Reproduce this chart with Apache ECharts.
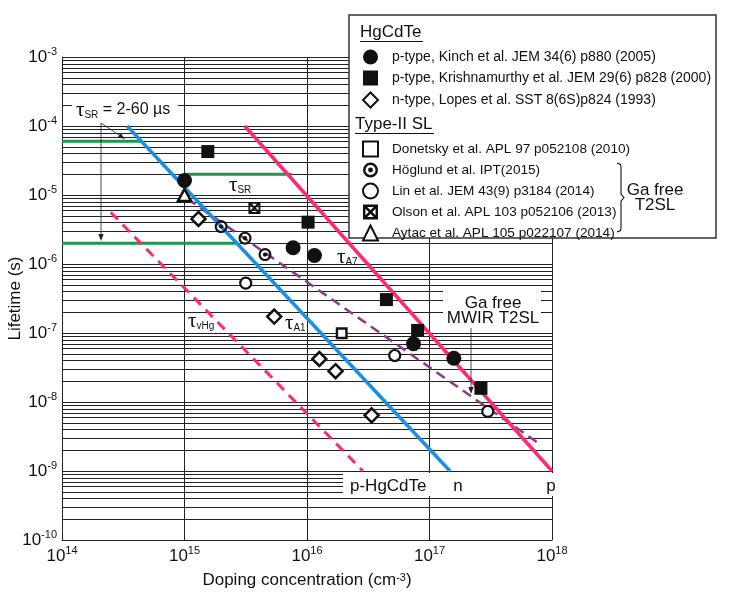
<!DOCTYPE html>
<html><head><meta charset="utf-8">
<script src="https://cdn.jsdelivr.net/npm/echarts@6/dist/echarts.min.js"></script>
<style>html,body{margin:0;padding:0;background:#fff}#chart{width:730px;height:600px}</style>
</head><body><div id="chart"></div>
<script>
const FONT = "'Liberation Sans', Arial, Helvetica, sans-serif";
const SERIF = "'Liberation Serif', 'Times New Roman', serif";

// ---- axes ----
const xMin = 1e14, xMax = 1e18;
const yMin = 1e-10, yMax = 1e-3;
const yDecades = [-10, -9, -8, -7, -6, -5, -4];
const minorMultipliers = [2, 3, 4, 5, 6, 7, 8, 9];

// ---- HgCdTe data ----
const kinchX = [1.0e15, 7.7e15, 1.15e16, 7.4e16, 1.58e17];
const kinchY = [1.62e-5, 1.72e-6, 1.33e-6, 7.0e-8, 4.3e-8];
const krishX = [1.55e15, 1.02e16, 4.45e16, 8.0e16, 2.63e17];
const krishY = [4.26e-5, 4.04e-6, 3.05e-7, 1.09e-7, 1.58e-8];
const lopesX = [1.3e15, 5.4e15, 1.26e16, 1.71e16, 3.37e16];
const lopesY = [4.5e-6, 1.73e-7, 4.2e-8, 2.8e-8, 6.4e-9];

// ---- Type-II SL data ----
const donetskyX = [1.92e16];
const donetskyY = [9.9e-8];
const hoglundX = [1.99e15, 3.12e15, 4.54e15];
const hoglundY = [3.49e-6, 2.37e-6, 1.37e-6];
const linX = [3.16e15, 5.2e16, 2.99e17];
const linY = [5.27e-7, 4.72e-8, 7.3e-9];
const olsonX = [3.72e15];
const olsonY = [6.5e-6];
const aytacX = [1.0e15];
const aytacY = [1.0e-5];

// ---- model lines ----
const tauA1X = [3.4e14, 1.47e17];
const tauA1Y = [1e-4, 1e-9];
const tauA7X = [3.1e15, 1e18];
const tauA7Y = [1e-4, 1e-9];
const tauVHgX = [2.5e14, 2.86e16];
const tauVHgY = [5.6e-6, 1e-9];
const gaFreeX = [1.05e15, 8.2e17];
const gaFreeY = [8.9e-6, 2.36e-9];
const tauSR1X = [1e14, 4.5e14];
const tauSR1Y = [6e-5, 6e-5];
const tauSR2X = [1e15, 7.5e15];
const tauSR2Y = [2e-5, 2e-5];
const tauSR3X = [1e14, 2.6e15];
const tauSR3Y = [2e-6, 2e-6];

// ---- names ----
const N_KINCH = 'p-type, Kinch et al. JEM 34(6) p880 (2005)';
const N_KRISH = 'p-type, Krishnamurthy et al. JEM 29(6) p828 (2000)';
const N_LOPES = 'n-type, Lopes et al. SST 8(6S)p824 (1993)';
const N_DONETSKY = 'Donetsky et al. APL 97 p052108 (2010)';
const N_HOGLUND = 'Höglund et al. IPT(2015)';
const N_LIN = 'Lin et al. JEM 43(9) p3184 (2014)';
const N_OLSON = 'Olson et al. APL 103 p052106 (2013)';
const N_AYTAC = 'Aytac et al. APL 105 p022107 (2014)';

const PATH_DOT_CIRCLE = 'path://M10,0A10,10,0,1,1,10,20A10,10,0,1,1,10,0ZM10,3.3A6.7,6.7,0,1,0,10,16.7A6.7,6.7,0,1,0,10,3.3ZM10,6.7A3.3,3.3,0,1,1,10,13.3A3.3,3.3,0,1,1,10,6.7Z';
const PATH_X_SQUARE = 'path://M0,0L20,0L20,20L0,20ZM3.2,3.2L3.2,16.8L16.8,16.8L16.8,3.2ZM3.2,3.2L5.7,3.2L16.8,14.3L16.8,16.8L14.3,16.8L3.2,5.7ZM16.8,3.2L16.8,5.7L5.7,16.8L3.2,16.8L3.2,14.3L14.3,3.2Z';

const zip = (xs, ys) => xs.map((x, i) => [x, ys[i]]);

const minorY = [];
yDecades.forEach(d => minorMultipliers.forEach(m => minorY.push(m * Math.pow(10, d))));

const INK = '#111';
const BLUE = '#1b8fe2';
const PINK = '#ff2a76';
const GREEN = '#1a9a48';
const PURPLE = '#8b3b86';

function lineSeries(xs, ys, color, width, dash) {
  return {
    type: 'line', data: zip(xs, ys), symbol: 'none', z: 3, silent: true,
    lineStyle: { color: color, width: width, type: dash ? dash : 'solid', cap: 'butt' },
    animation: false
  };
}
function scatter(name, xs, ys, symbol, size, style) {
  return {
    type: 'scatter', name: name, data: zip(xs, ys), symbol: symbol, symbolSize: size,
    itemStyle: Object.assign({ opacity: 1 }, style), z: 4, animation: false
  };
}

const fmtPow = v => '{b|10}{s|' + Math.round(Math.log10(v)) + '}';
const powRich = {
  b: { fontSize: 17, lineHeight: 22, fontFamily: FONT, color: INK },
  s: { fontSize: 11, lineHeight: 11, verticalAlign: 'top', fontFamily: FONT, color: INK }
};

function arrow(x1, y1, x2, y2) {
  const dx = x2 - x1, dy = y2 - y1, L = Math.hypot(dx, dy), ux = dx / L, uy = dy / L;
  const hl = 7, hw = 2.6;
  const bx = x2 - ux * hl, by = y2 - uy * hl;
  return [
    { type: 'line', z: 6, silent: true, shape: { x1: x1, y1: y1, x2: bx, y2: by }, style: { stroke: '#222', lineWidth: 0.8 } },
    { type: 'polygon', z: 6, silent: true, shape: { points: [[x2, y2], [bx - uy * hw, by + ux * hw], [bx + uy * hw, by - ux * hw]] }, style: { fill: '#222' } }
  ];
}
function tauLabel(x, y, sub) {
  return {
    type: 'text', x: x, y: y, z: 6, silent: true,
    style: {
      text: '{t|τ}{s|' + sub + '}', align: 'left', verticalAlign: 'middle',
      rich: {
        t: { fontFamily: SERIF, fontSize: 21, lineHeight: 20, fill: INK },
        s: { fontFamily: FONT, fontSize: 10, lineHeight: 11, verticalAlign: 'bottom', fill: INK }
      }
    }
  };
}
function txt(x, y, text, size, align, extra) {
  return {
    type: 'text', x: x, y: y, z: 6, silent: true,
    style: Object.assign({ text: text, fontFamily: FONT, fontSize: size, fill: INK, align: align || 'left', verticalAlign: 'middle' }, extra || {})
  };
}
function whiteBox(x, y, w, h, z, stroke) {
  return {
    type: 'rect', z: z, silent: true, shape: { x: x, y: y, width: w, height: h },
    style: stroke ? { fill: '#fff', stroke: stroke, lineWidth: 1.5 } : { fill: '#fff' }
  };
}
function legendBlock(items, top, gap, fontSize) {
  return {
    data: items, orient: 'vertical', left: 362, top: top, padding: 0,
    itemWidth: 15, itemHeight: 15, itemGap: gap, selectedMode: false, z: 7,
    symbolKeepAspect: true,
    textStyle: { fontSize: fontSize, color: INK, fontFamily: FONT, padding: [0, 0, 0, 9] },
    itemStyle: { borderWidth: 2 }
  };
}

const chart = echarts.init(document.getElementById('chart'), null, { renderer: 'canvas' });

const option = {
  backgroundColor: '#fff',
  animation: false,
  textStyle: { fontFamily: FONT },
  grid: { left: 62, right: 178, top: 57, bottom: 60, containLabel: false, outerBoundsMode: 'none' },
  xAxis: {
    type: 'log', logBase: 10, min: xMin, max: xMax, splitNumber: 4,
    axisLine: { show: true, lineStyle: { color: '#222', width: 1 } },
    axisTick: { show: false },
    splitLine: { show: true, lineStyle: { color: '#222', width: 1 } },
    axisLabel: { formatter: fmtPow, rich: powRich, margin: 5 },
    name: 'Doping concentration (cm{s|-3})', nameLocation: 'middle', nameGap: 32, nameMoveOverlap: false,
    nameTextStyle: { fontSize: 17, color: INK, fontFamily: FONT,
      rich: { s: { fontSize: 11, verticalAlign: 'top', lineHeight: 11, fontFamily: FONT, color: INK } } }
  },
  yAxis: {
    type: 'log', logBase: 10, min: yMin, max: yMax, splitNumber: 7,
    axisLine: { show: true, lineStyle: { color: '#222', width: 1 } },
    axisTick: { show: false },
    splitLine: { show: true, lineStyle: { color: '#222', width: 1 } },
    axisLabel: { formatter: fmtPow, rich: powRich, margin: 5 },
    name: 'Lifetime (s)', nameLocation: 'middle', nameGap: 38, nameMoveOverlap: false,
    nameTextStyle: { fontSize: 17, color: INK, fontFamily: FONT }
  },
  legend: [
    legendBlock([{ name: N_KINCH }, { name: N_KRISH }, { name: N_LOPES }], 49.5, 6, 14),
    legendBlock([{ name: N_DONETSKY }, { name: N_HOGLUND, itemStyle: { borderWidth: 0 } }, { name: N_LIN },
      { name: N_OLSON, itemStyle: { borderWidth: 0 } }, { name: N_AYTAC }], 140.5, 5, 13.6)
  ],
  series: [
    {
      type: 'custom', z: 1, silent: true, animation: false, clip: true,
      data: minorY.map(v => [xMin, v]),
      renderItem: function (params, api) {
        const p0 = api.coord([xMin, api.value(1)]);
        const p1 = api.coord([xMax, api.value(1)]);
        const y = Math.round(p0[1]) + 0.5;
        return { type: 'line', shape: { x1: p0[0], y1: y, x2: p1[0], y2: y }, style: { stroke: '#222', lineWidth: 1 } };
      }
    },
    lineSeries(tauSR1X, tauSR1Y, GREEN, 3),
    lineSeries(tauSR2X, tauSR2Y, GREEN, 3),
    lineSeries(tauSR3X, tauSR3Y, GREEN, 3),
    lineSeries(tauVHgX, tauVHgY, PINK, 3, [10, 7]),
    lineSeries(gaFreeX, gaFreeY, PURPLE, 2.5, [10, 6]),
    lineSeries(tauA1X, tauA1Y, BLUE, 3.5),
    lineSeries(tauA7X, tauA7Y, PINK, 3.5),
    scatter(N_KINCH, kinchX, kinchY, 'circle', 15, { color: INK }),
    scatter(N_KRISH, krishX, krishY, 'rect', 13, { color: INK }),
    scatter(N_LOPES, lopesX, lopesY, 'diamond', 14, { color: '#fff', borderColor: INK, borderWidth: 2.5 }),
    scatter(N_DONETSKY, donetskyX, donetskyY, 'rect', 9.5, { color: '#fff', borderColor: INK, borderWidth: 2.4 }),
    scatter(N_HOGLUND, hoglundX, hoglundY, PATH_DOT_CIRCLE, 13, { color: INK, borderWidth: 0 }),
    scatter(N_LIN, linX, linY, 'circle', 11, { color: '#fff', borderColor: INK, borderWidth: 2.2 }),
    scatter(N_OLSON, olsonX, olsonY, PATH_X_SQUARE, 12, { color: INK, borderWidth: 0 }),
    scatter(N_AYTAC, aytacX, aytacY, 'triangle', [13, 12], { color: '#fff', borderColor: INK, borderWidth: 2.5 })
  ],
  graphic: {
    elements: [
      whiteBox(72, 96, 106, 26, 2),
      whiteBox(443, 287, 98, 41, 2),
      whiteBox(343, 473, 213, 23, 2),
      whiteBox(349, 15, 367, 223, 5, '#333'),
      txt(360, 32, 'HgCdTe', 17),
      { type: 'line', z: 6, silent: true, shape: { x1: 360, y1: 41.5, x2: 423, y2: 41.5 }, style: { stroke: INK, lineWidth: 1.2 } },
      txt(355, 124.5, 'Type-II SL', 17),
      { type: 'line', z: 6, silent: true, shape: { x1: 355, y1: 133.5, x2: 434, y2: 133.5 }, style: { stroke: INK, lineWidth: 1.2 } },
      { type: 'polyline', z: 6, silent: true,
        shape: { points: [[617, 163], [620.5, 164.5], [621, 167], [621, 194], [624, 197.5], [621, 201], [621, 228], [620.5, 230.5], [617, 232]] },
        style: { stroke: INK, lineWidth: 1.1, fill: null } },
      txt(655, 198, 'Ga free\nT2SL', 17, 'center', { lineHeight: 15 }),
      {
        type: 'text', x: 76, y: 110, z: 6, silent: true,
        style: {
          text: '{t|τ}{s|SR}{n| = 2-60 µs}', align: 'left', verticalAlign: 'middle',
          rich: {
            t: { fontFamily: SERIF, fontSize: 21, lineHeight: 20, fill: INK },
            s: { fontFamily: FONT, fontSize: 10, lineHeight: 11, verticalAlign: 'bottom', fill: INK },
            n: { fontFamily: FONT, fontSize: 16, lineHeight: 20, fill: INK }
          }
        }
      },
      ...arrow(101, 123, 125, 139),
      ...arrow(101, 123, 101, 241),
      tauLabel(229, 185, 'SR'),
      tauLabel(337, 257, 'A7'),
      tauLabel(285, 323, 'A1'),
      tauLabel(188, 321, 'vHg'),
      txt(493, 311, 'Ga free\nMWIR T2SL', 17, 'center', { lineHeight: 15 }),
      ...arrow(471, 328, 471, 394),
      txt(350, 486, 'p-HgCdTe', 17),
      txt(458, 486, 'n', 17, 'center'),
      txt(551, 486, 'p', 17, 'center')
    ]
  }
};
chart.setOption(option);
</script>
</body></html>
